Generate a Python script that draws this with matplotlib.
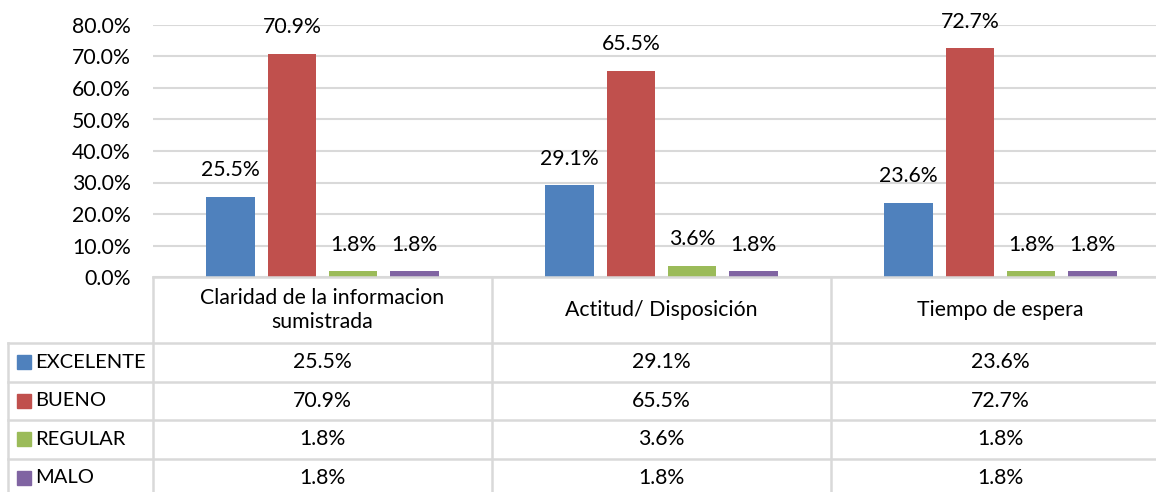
import matplotlib.pyplot as plt
import numpy as np

plt.rcParams['font.family'] = ['Lato', 'DejaVu Sans']

# datos
categorias = ['Claridad de la informacion\nsumistrada', 'Actitud/ Disposición', 'Tiempo de espera']
series = ['EXCELENTE', 'BUENO', 'REGULAR', 'MALO']
excelente = [25.5, 29.1, 23.6]
bueno = [70.9, 65.5, 72.7]
regular = [1.8, 3.6, 1.8]
malo = [1.8, 1.8, 1.8]
valores = [excelente, bueno, regular, malo]
colores = ['#4F81BD', '#C0504D', '#9BBB59', '#8064A2']
yticks = [0, 10, 20, 30, 40, 50, 60, 70, 80]

W, H = 1156, 492
fs = 15.3
fig = plt.figure(figsize=(W / 100, H / 100), dpi=100)

# ejes del grafico (en pixeles)
x0, x1 = 153, 1170
y_top, y_base = 25, 277
ax = fig.add_axes([x0 / W, (H - y_base) / H, (x1 - x0) / W, (y_base - y_top) / H])
ax.set_xlim(-0.5, 2.5)
ax.set_ylim(0, 80)

x = np.arange(len(categorias))
ancho = 0.142
paso = 0.181
for i, (serie, vals) in enumerate(zip(series, valores)):
    pos = x + (i - 1.5) * paso
    ax.bar(pos, vals, width=ancho, color=colores[i], zorder=3)
    for px, v in zip(pos, vals):
        ax.annotate(f'{v:.1f}%', (px, v), xytext=(0, 19), textcoords='offset points',
                    ha='center', va='center', fontsize=fs, color='#000000', annotation_clip=False)

ax.set_yticks(yticks)
ax.set_yticklabels([f'{t:.1f}%' for t in yticks], fontsize=fs)
ax.tick_params(axis='y', length=0, pad=16)
ax.set_xticks([])
ax.grid(axis='y', color='#D9D9D9', lw=1.5, zorder=0)
for s in ax.spines.values():
    s.set_visible(False)

# tabla de datos
tx = fig.add_axes([x0 / W, 0, (x1 - x0) / W, (H - y_base) / H], sharex=ax)
tx.set_ylim(H, y_base)
tx.axis('off')
lc = '#D9D9D9'
lw = 1.8
px_per_cat = (x1 - x0) / 3
x_left = -0.5 - (x0 - 8) / px_per_cat
filas = [y_base, 343, 381.5, 420, 458.5, 497]

# lineas horizontales
tx.plot([-0.5, 2.5], [filas[0], filas[0]], color=lc, lw=lw, clip_on=False)
for yy in filas[1:]:
    tx.plot([x_left, 2.5], [yy, yy], color=lc, lw=lw, clip_on=False)
# lineas verticales
for xx in [-0.5, 0.5, 1.5]:
    tx.plot([xx, xx], [filas[0], filas[-1]], color=lc, lw=lw, clip_on=False)
tx.plot([x_left, x_left], [filas[1], filas[-1]], color=lc, lw=lw, clip_on=False)

# encabezados
for xi, cat in zip(x, categorias):
    tx.text(xi, (filas[0] + filas[1]) / 2, cat, ha='center', va='center',
            multialignment='center', fontsize=fs, linespacing=1.3, clip_on=False)

# filas de series
for i, (serie, vals) in enumerate(zip(series, valores)):
    yc = (filas[i + 1] + filas[i + 2]) / 2
    tx.plot([x_left + 16 / px_per_cat], [yc], marker='s', ms=10, color=colores[i],
            clip_on=False, ls='none')
    tx.text(x_left + 27 / px_per_cat, yc, serie, ha='left', va='center', fontsize=14.5,
            clip_on=False)
    for xi, v in zip(x, vals):
        tx.text(xi, yc, f'{v:.1f}%', ha='center', va='center', fontsize=fs, clip_on=False)

fig.savefig('out.png', dpi=100)
